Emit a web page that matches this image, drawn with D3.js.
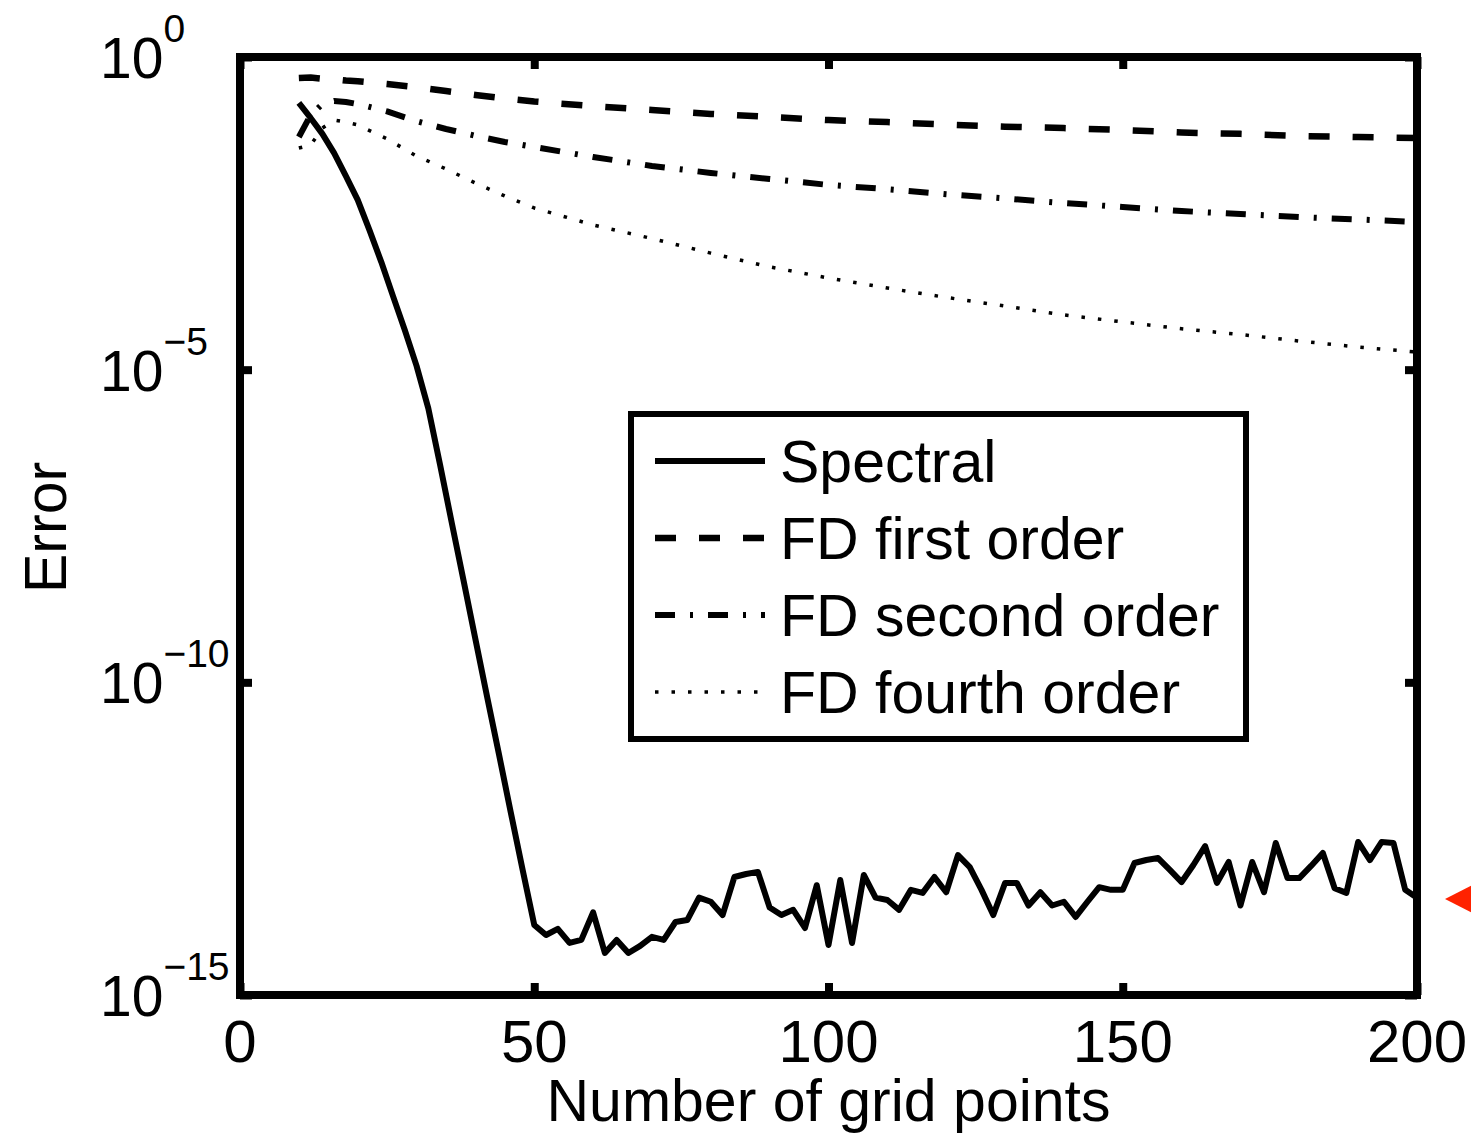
<!DOCTYPE html>
<html>
<head>
<meta charset="utf-8">
<script src="https://cdn.jsdelivr.net/npm/d3@7"></script>
<style>
  body { margin: 0; background: #fff; }
  text { font-family: "Liberation Sans", Arial, sans-serif; fill: #000; }
</style>
</head>
<body>
<div id="wrapper"></div>
<script>
// data
const spectralN = d3.range(10, 201, 2);
const spectralErr = [
  1.84e-1, 1.06e-1, 5.9e-2, 2.9e-2, 1.25e-2, 5.2e-3, 1.7e-3, 5.3e-4, 1.5e-4, 4.3e-5,
  1.15e-5, 2.4e-6, 3.0e-7, 3.5e-8, 4.2e-9, 4.9e-10, 5.8e-11, 7.1e-12, 8.4e-13, 1.03e-13,
  1.32e-14, 9.1e-15, 1.14e-14, 6.8e-15, 7.6e-15, 2.1e-14, 4.7e-15, 7.6e-15, 4.7e-15, 6.1e-15,
  8.5e-15, 7.6e-15, 1.47e-14, 1.58e-14, 3.6e-14, 3.1e-14, 1.9e-14, 7.7e-14, 8.6e-14, 9.3e-14,
  2.5e-14, 1.9e-14, 2.3e-14, 1.18e-14, 5.7e-14, 6.3e-15, 6.9e-14, 6.8e-15, 8.3e-14, 3.6e-14,
  3.3e-14, 2.3e-14, 4.8e-14, 4.3e-14, 7.7e-14, 4.4e-14, 1.73e-13, 1.11e-13, 4.8e-14, 1.9e-14,
  6.2e-14, 6.2e-14, 2.7e-14, 4.4e-14, 2.7e-14, 3.1e-14, 1.77e-14, 3.1e-14, 5.3e-14, 4.8e-14,
  4.8e-14, 1.29e-13, 1.44e-13, 1.55e-13, 1.0e-13, 6.4e-14, 1.2e-13, 2.4e-13, 6.2e-14, 1.34e-13,
  2.7e-14, 1.34e-13, 4.4e-14, 2.7e-13, 7.4e-14, 7.4e-14, 1.16e-13, 1.87e-13, 5.1e-14, 4.3e-14,
  2.8e-13, 1.44e-13, 2.8e-13, 2.7e-13, 4.8e-14, 3.6e-14
];

const fdN = [10, 12, 14, 16, 18, 20, 25, 30, 35, 40, 45, 50, 60, 70, 80, 90, 100,
  110, 120, 130, 140, 150, 160, 170, 180, 190, 200];
const fd1Err = [0.46, 0.47, 0.45, 0.44, 0.42, 0.41, 0.37, 0.33, 0.286, 0.247, 0.217, 0.194,
  0.164, 0.142, 0.123, 0.110, 0.098, 0.091, 0.083, 0.077, 0.073, 0.068, 0.062, 0.059,
  0.0546, 0.0526, 0.0507];
const fd2Err = [0.0526, 0.118, 0.177, 0.198, 0.191, 0.177, 0.135, 0.094, 0.0706, 0.055,
  0.0437, 0.0364, 0.0252, 0.0181, 0.014, 0.0112, 0.009, 0.0077, 0.0064, 0.00546, 0.00462,
  0.00399, 0.00344, 0.00308, 0.00276, 0.00252, 0.0023];
const fd4Err = [0.035, 0.039, 0.073, 0.098, 0.091, 0.082, 0.0489, 0.0261, 0.0162, 0.00966,
  0.00598, 0.00385, 0.00206, 0.00125, 7.3e-4, 4.4e-4, 2.92e-4, 2.02e-4, 1.43e-4, 1.04e-4,
  7.5e-5, 5.8e-5, 4.5e-5, 3.65e-5, 2.87e-5, 2.3e-5, 1.91e-5];

const seriesNames = ["Spectral", "FD first order", "FD second order", "FD fourth order"];
const xTicks = [0, 50, 100, 150, 200];
const yTicks = [1, 1e-5, 1e-10, 1e-15];
const yTickExp = ["0", "\u22125", "\u221210", "\u221215"];

// 1. dimensions
const dimensions = {
  width: 1471,
  height: 1133,
  margin: { top: 57, right: 54, bottom: 138, left: 240 },
};
dimensions.boundedWidth = dimensions.width - dimensions.margin.left - dimensions.margin.right;
dimensions.boundedHeight = dimensions.height - dimensions.margin.top - dimensions.margin.bottom;

const series = [
  { name: seriesNames[0], n: spectralN, err: spectralErr, dash: null, width: 6 },
  { name: seriesNames[1], n: fdN, err: fd1Err, dash: "21,23", width: 6.5 },
  { name: seriesNames[2], n: fdN, err: fd2Err, dash: "20,15,3,15", width: 6 },
  { name: seriesNames[3], n: fdN, err: fd4Err, dash: "3.5,13", width: 3.5 },
];

// 2. canvas
const wrapper = d3.select("#wrapper")
  .append("svg")
  .attr("width", dimensions.width)
  .attr("height", dimensions.height);

const bounds = wrapper.append("g")
  .attr("transform", `translate(${dimensions.margin.left},${dimensions.margin.top})`);

// 3. scales
const xScale = d3.scaleLinear()
  .domain([0, 200])
  .range([0, dimensions.boundedWidth]);

const yScale = d3.scaleLog()
  .domain([1e-15, 1])
  .range([dimensions.boundedHeight, 0]);

// 4. data lines
const lineGen = (s) => d3.line()
  .x((d, i) => xScale(s.n[i]))
  .y((d) => yScale(d))(s.err);

bounds.append("g")
  .selectAll("path")
  .data(series)
  .join("path")
  .attr("d", (d) => lineGen(d))
  .attr("fill", "none")
  .attr("stroke", "#000")
  .attr("stroke-width", (d) => d.width)
  .attr("stroke-dasharray", (d) => d.dash)
  .attr("stroke-linejoin", "round");

// 5. axes (ticks pointing inward on all four sides)
const tickLen = 12;
const axisStyle = (g) => {
  g.select(".domain").remove();
  g.selectAll(".tick line").attr("stroke", "#000").attr("stroke-width", 8);
  g.selectAll(".tick text").remove();
};

bounds.append("g")
  .attr("transform", `translate(0,${dimensions.boundedHeight})`)
  .call(d3.axisBottom(xScale).tickValues(xTicks).tickSize(-tickLen))
  .call(axisStyle);
bounds.append("g")
  .call(d3.axisTop(xScale).tickValues(xTicks).tickSize(-tickLen))
  .call(axisStyle);
bounds.append("g")
  .call(d3.axisLeft(yScale).tickValues(yTicks).tickSize(-tickLen))
  .call(axisStyle);
bounds.append("g")
  .attr("transform", `translate(${dimensions.boundedWidth},0)`)
  .call(d3.axisRight(yScale).tickValues(yTicks).tickSize(-tickLen))
  .call(axisStyle);

// frame
bounds.append("rect")
  .attr("width", dimensions.boundedWidth)
  .attr("height", dimensions.boundedHeight)
  .attr("fill", "none")
  .attr("stroke", "#000")
  .attr("stroke-width", 8);

// x tick labels
bounds.append("g")
  .selectAll("text")
  .data(xTicks)
  .join("text")
  .attr("x", (d) => xScale(d))
  .attr("y", dimensions.boundedHeight + 67)
  .attr("text-anchor", "middle")
  .style("font-size", "60px")
  .text((d) => d);

// y tick labels with exponents
const yLabels = bounds.append("g")
  .selectAll("text")
  .data(yTicks)
  .join("text")
  .attr("x", 100 - dimensions.margin.left)
  .attr("y", (d) => yScale(d) + 21)
  .style("font-size", "57px");
yLabels.append("tspan").text("10");
yLabels.append("tspan")
  .attr("dy", -36)
  .style("font-size", "39px")
  .text((d, i) => yTickExp[i]);

// axis titles
bounds.append("text")
  .attr("x", xScale(100))
  .attr("y", dimensions.boundedHeight + 126)
  .attr("text-anchor", "middle")
  .style("font-size", "59px")
  .text("Number of grid points");

bounds.append("text")
  .attr("transform", `translate(${66 - dimensions.margin.left},${yScale(3e-8)}) rotate(-90)`)
  .attr("text-anchor", "middle")
  .style("font-size", "59px")
  .text("Error");

// 6. legend
const legend = wrapper.append("g").attr("transform", "translate(631,414)");
legend.append("rect")
  .attr("width", 615)
  .attr("height", 325)
  .attr("fill", "#fff")
  .attr("stroke", "#000")
  .attr("stroke-width", 6);

const legendRow = legend.selectAll(".legend-row")
  .data(series)
  .join("g")
  .attr("class", "legend-row")
  .attr("transform", (d, i) => `translate(0,${47 + i * 77})`);

legendRow.append("line")
  .attr("x1", 24)
  .attr("x2", 134)
  .attr("stroke", "#000")
  .attr("stroke-width", (d) => d.width)
  .attr("stroke-dasharray", (d) => d.dash);

legendRow.append("text")
  .attr("x", 149)
  .attr("y", 21)
  .style("font-size", "59px")
  .text((d) => d.name);

// red marker at right edge
wrapper.append("path")
  .attr("d", "M1445,899 L1480,881 L1480,917 Z")
  .attr("fill", "#ff2200");
</script>
</body>
</html>
